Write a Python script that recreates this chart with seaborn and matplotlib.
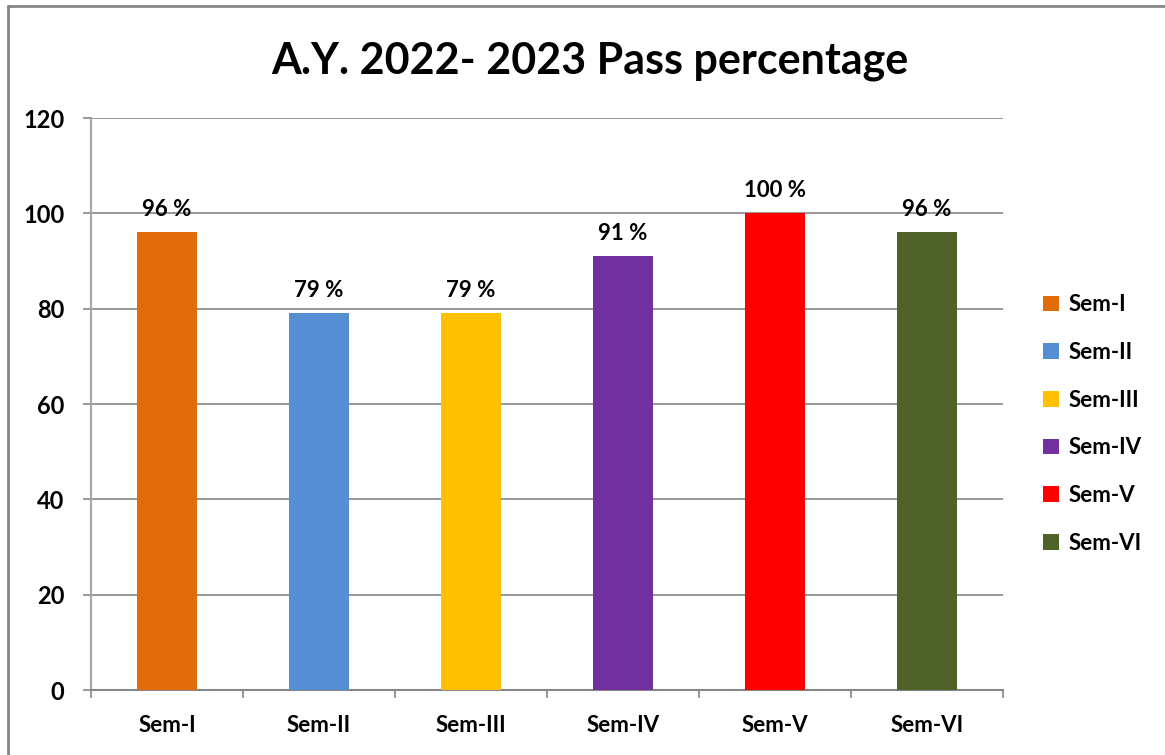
import matplotlib
matplotlib.use("Agg")
import matplotlib.pyplot as plt
import seaborn as sns
import pandas as pd
from matplotlib.lines import Line2D
from matplotlib.patches import Patch

categories = ["Sem-I", "Sem-II", "Sem-III", "Sem-IV", "Sem-V", "Sem-VI"]
values = [96, 79, 79, 91, 100, 96]
colors = ["#E36C0A", "#558ED5", "#FFC000", "#7030A0", "#FF0000", "#4F6228"]
yticks = [0, 20, 40, 60, 80, 100, 120]
title = "A.Y. 2022- 2023 Pass percentage"

sns.set_theme(style="white")
plt.rcParams['font.family'] = ['Lato', 'DejaVu Sans']
plt.rcParams['text.color'] = 'black'
plt.rcParams['xtick.color'] = 'black'
plt.rcParams['ytick.color'] = 'black'

df = pd.DataFrame({"sem": categories, "pct": values})

fig = plt.figure(figsize=(11.65, 7.55), dpi=100)
ax = fig.add_axes([91/1165, 65/755, 912/1165, 572/755])

sns.barplot(data=df, x="sem", y="pct", hue="sem", palette=colors,
            width=0.4, saturation=1, legend=False, ax=ax, zorder=3,
            linewidth=0, edgecolor="none")

ax.set_ylim(0, 120)
ax.set_xlim(-0.5, 5.5)
ax.set_yticks(yticks)
ax.set_yticklabels([str(t) for t in yticks], fontsize=17, fontweight="bold")
ax.set_xticks(range(len(categories)))
ax.set_xticklabels(categories, fontsize=16, fontweight="bold")
ax.set_xlabel("")
ax.set_ylabel("")
ax.yaxis.grid(True, color="#868686", linewidth=1.2, zorder=0)
ax.set_axisbelow(True)

for side in ["top", "right"]:
    ax.spines[side].set_visible(False)
ax.spines["left"].set_color("#A6A6A6")
ax.spines["left"].set_linewidth(1.5)
ax.spines["bottom"].set_color("#868686")
ax.spines["bottom"].set_linewidth(1.5)

ax.tick_params(axis="y", which="major", direction="out", length=6, width=1.2,
               color="#868686", left=True, pad=13, labelcolor="black")
ax.tick_params(axis="x", which="major", length=0, pad=18, labelcolor="black")
ax.set_xticks([i - 0.5 for i in range(len(categories) + 1)], minor=True)
ax.tick_params(axis="x", which="minor", direction="out", length=6, width=1.2,
               color="#868686", bottom=True)

for cont in ax.containers:
    ax.bar_label(cont, fmt="{:.0f} %", padding=9, fontsize=16,
                 fontweight="bold", color="black")

handles = [Patch(facecolor=c, edgecolor="none") for c in colors]
leg = fig.legend(handles, categories, loc="center left",
                 bbox_to_anchor=(1023/1165, 1 - 424/755), frameon=False,
                 prop={"size": 16, "weight": "bold"}, handlelength=0.7,
                 handleheight=0.7, handletextpad=0.45, labelspacing=1.2)
for t in leg.get_texts():
    t.set_color("black")

fig.suptitle(title, x=590/1165, y=1 - 61/755, va="center",
             fontsize=31, fontweight="bold", color="black")

# outer chart border (top and left visible)
fig.add_artist(Line2D([8/1165, 8/1165], [0, 1 - 6/755], transform=fig.transFigure,
                      color="#868686", linewidth=2))
fig.add_artist(Line2D([8/1165, 1], [1 - 6/755, 1 - 6/755], transform=fig.transFigure,
                      color="#868686", linewidth=2))

fig.savefig("out.png", dpi=100)
